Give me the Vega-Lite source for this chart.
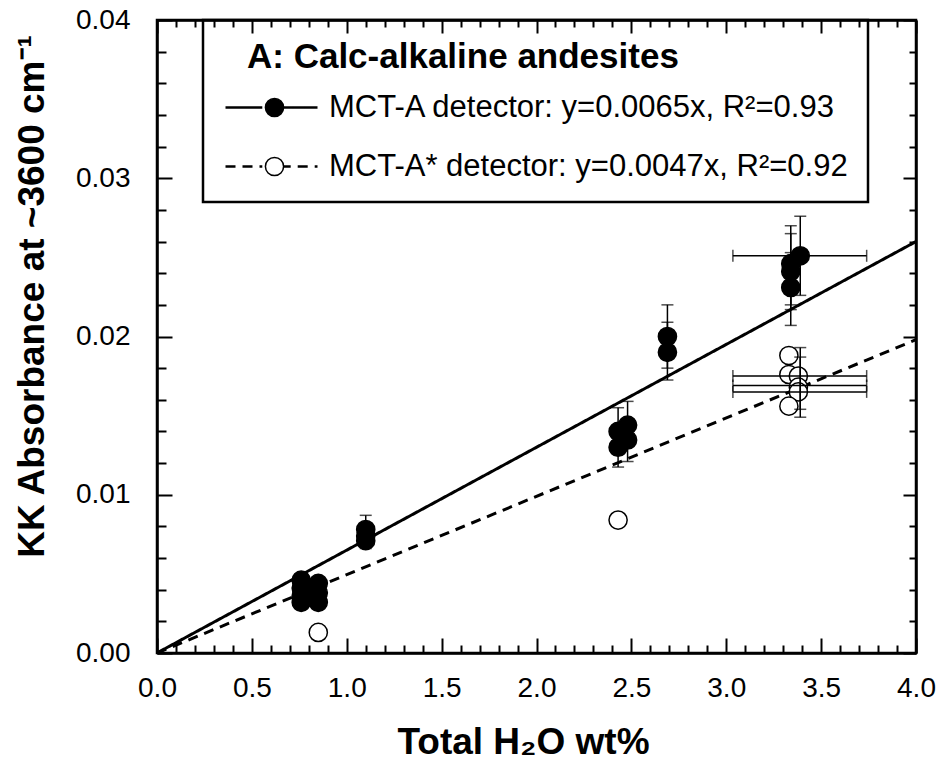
{
  "$schema": "https://vega.github.io/schema/vega-lite/v6.json",
  "width": 759,
  "height": 633,
  "autosize": {"type": "none"},
  "padding": {"left": 157, "top": 20, "right": 32, "bottom": 112},
  "background": "white",
  "config": {
    "font": "Liberation Sans",
    "view": {"stroke": "black", "strokeWidth": 2.5},
    "axis": {"grid": false, "domainColor": "black", "domainWidth": 2.5, "tickColor": "black", "tickWidth": 2, "labelColor": "black", "titleColor": "black", "labelFont": "Liberation Sans", "titleFont": "Liberation Sans", "labelOverlap": false, "labelFlush": false, "labelBound": false},
    "legend": {"labelFont": "Liberation Sans", "titleFont": "Liberation Sans", "labelColor": "black", "titleColor": "black", "labelLimit": 0, "titleLimit": 0}
  },
  "datasets": {
    "fits": [
      {"fit": "MCT-A detector: y=0.0065x, R²=0.93", "x": 0, "y": 0},
      {"fit": "MCT-A detector: y=0.0065x, R²=0.93", "x": 4, "y": 0.026},
      {"fit": "MCT-A* detector: y=0.0047x, R²=0.92", "x": 0, "y": 0},
      {"fit": "MCT-A* detector: y=0.0047x, R²=0.92", "x": 4, "y": 0.0198}
    ],
    "pts": [
      {"detector": "MCT-A", "x": 0.76, "y": 0.0046},
      {"detector": "MCT-A", "x": 0.76, "y": 0.0041},
      {"detector": "MCT-A", "x": 0.76, "y": 0.0036},
      {"detector": "MCT-A", "x": 0.76, "y": 0.0032},
      {"detector": "MCT-A", "x": 0.85, "y": 0.0044},
      {"detector": "MCT-A", "x": 0.85, "y": 0.0038},
      {"detector": "MCT-A", "x": 0.85, "y": 0.0032},
      {"detector": "MCT-A", "x": 1.1, "y": 0.0078},
      {"detector": "MCT-A", "x": 1.1, "y": 0.0074},
      {"detector": "MCT-A", "x": 1.1, "y": 0.0071},
      {"detector": "MCT-A", "x": 2.43, "y": 0.014},
      {"detector": "MCT-A", "x": 2.43, "y": 0.013},
      {"detector": "MCT-A", "x": 2.48, "y": 0.0144},
      {"detector": "MCT-A", "x": 2.48, "y": 0.01346},
      {"detector": "MCT-A", "x": 2.69, "y": 0.02},
      {"detector": "MCT-A", "x": 2.69, "y": 0.019},
      {"detector": "MCT-A", "x": 3.34, "y": 0.0231},
      {"detector": "MCT-A", "x": 3.34, "y": 0.0241},
      {"detector": "MCT-A", "x": 3.34, "y": 0.0246},
      {"detector": "MCT-A", "x": 3.39, "y": 0.0251},
      {"detector": "MCT-A*", "x": 0.85, "y": 0.0013},
      {"detector": "MCT-A*", "x": 2.43, "y": 0.0084},
      {"detector": "MCT-A*", "x": 3.33, "y": 0.0188},
      {"detector": "MCT-A*", "x": 3.33, "y": 0.0176},
      {"detector": "MCT-A*", "x": 3.38, "y": 0.0175},
      {"detector": "MCT-A*", "x": 3.38, "y": 0.0168},
      {"detector": "MCT-A*", "x": 3.38, "y": 0.0165},
      {"detector": "MCT-A*", "x": 3.33, "y": 0.0156}
    ],
    "vbars": [
      {"x": 1.1, "lo": 0.0066, "hi": 0.0087},
      {"x": 2.43, "lo": 0.01175, "hi": 0.0155},
      {"x": 2.48, "lo": 0.0121, "hi": 0.0159},
      {"x": 2.69, "lo": 0.018, "hi": 0.022},
      {"x": 2.69, "lo": 0.01725, "hi": 0.0209},
      {"x": 3.34, "lo": 0.0207, "hi": 0.0253},
      {"x": 3.34, "lo": 0.0217, "hi": 0.0265},
      {"x": 3.34, "lo": 0.022, "hi": 0.027},
      {"x": 3.39, "lo": 0.0226, "hi": 0.0276},
      {"x": 3.39, "lo": 0.0154, "hi": 0.0193},
      {"x": 3.39, "lo": 0.0149, "hi": 0.0187}
    ],
    "hbars": [
      {"y": 0.0251, "lo": 3.035, "hi": 3.74},
      {"y": 0.0175, "lo": 3.035, "hi": 3.74},
      {"y": 0.0169, "lo": 3.035, "hi": 3.74},
      {"y": 0.0165, "lo": 3.035, "hi": 3.74}
    ]
  },
  "resolve": {"axis": {"x": "independent", "y": "independent"}},
  "layer": [
    {
      "data": {"name": "fits"},
      "mark": {"type": "line", "color": "black", "strokeWidth": 3},
      "encoding": {
        "x": {"field": "x", "type": "quantitative",
          "scale": {"domain": [0, 4], "nice": false, "zero": false},
          "axis": {
            "orient": "bottom",
            "values": [0,0.1,0.2,0.3,0.4,0.5,0.6,0.7,0.8,0.9,1,1.1,1.2,1.3,1.4,1.5,1.6,1.7,1.8,1.9,2,2.1,2.2,2.3,2.4,2.5,2.6,2.7,2.8,2.9,3,3.1,3.2,3.3,3.4,3.5,3.6,3.7,3.8,3.9,4],
            "labelExpr": "abs(datum.value*2 - round(datum.value*2)) < 0.001 ? format(datum.value, '.1f') : ''",
            "tickSize": {"condition": {"test": "abs(datum.value*2 - round(datum.value*2)) < 0.001", "value": -15}, "value": -8},
            "labelFontSize": 28,
            "labelPadding": 36,
            "title": "Total H₂O wt%",
            "titleFontSize": 37,
            "titleFontWeight": "bold",
            "titleX": 366,
            "titleY": 100,
            "titleBaseline": "alphabetic"
          }
        },
        "y": {"field": "y", "type": "quantitative",
          "scale": {"domain": [0, 0.04], "nice": false, "zero": false},
          "axis": {
            "orient": "left",
            "values": [0,0.002,0.004,0.006,0.008,0.01,0.012,0.014,0.016,0.018,0.02,0.022,0.024,0.026,0.028,0.03,0.032,0.034,0.036,0.038,0.04],
            "labelExpr": "abs(datum.value*100 - round(datum.value*100)) < 0.001 ? format(datum.value, '.2f') : ''",
            "tickSize": {"condition": {"test": "abs(datum.value*100 - round(datum.value*100)) < 0.001", "value": -15}, "value": -9},
            "labelFontSize": 28,
            "labelPadding": 42,
            "title": "KK Absorbance at ~3600 cm⁻¹",
            "titleFontSize": 37,
            "titleFontWeight": "bold",
            "titleAngle": 270,
            "titleX": -114,
            "titleY": 276,
            "titleBaseline": "alphabetic",
            "titleAlign": "center"
          }
        },
        "strokeDash": {"field": "fit", "type": "nominal",
          "scale": {"domain": ["MCT-A detector: y=0.0065x, R²=0.93", "MCT-A* detector: y=0.0047x, R²=0.92"], "range": [[1, 0], [10, 7]]},
          "legend": {
            "orient": "none", "legendX": 46, "legendY": 0,
            "title": "A: Calc-alkaline andesites",
            "titleFontSize": 35, "titleFontWeight": "bold", "titlePadding": 17,
            "padding": 20,
            "strokeColor": "black",
            "symbolType": "M-4,0H-0.8M0.8,0H4",
            "symbolSize": 529,
            "symbolOffset": 33,
            "symbolStrokeWidth": 2.5,
            "symbolStrokeColor": "black",
            "labelOffset": 42,
            "labelFontSize": 31,
            "rowPadding": 27,
            "encode": {"legend": {"update": {"strokeWidth": {"value": 2.5}}}, "title": {"update": {"dx": {"value": 24}}}}
          }
        }
      }
    },
    {
      "data": {"name": "pts"},
      "mark": {"type": "point", "shape": "circle", "filled": true, "stroke": "black", "strokeWidth": 1.5, "size": 330, "opacity": 1},
      "encoding": {
        "x": {"field": "x", "type": "quantitative",
          "axis": {
            "orient": "top",
            "values": [0,0.1,0.2,0.3,0.4,0.5,0.6,0.7,0.8,0.9,1,1.1,1.2,1.3,1.4,1.5,1.6,1.7,1.8,1.9,2,2.1,2.2,2.3,2.4,2.5,2.6,2.7,2.8,2.9,3,3.1,3.2,3.3,3.4,3.5,3.6,3.7,3.8,3.9,4],
            "labels": false,
            "title": null,
            "tickSize": {"condition": {"test": "abs(datum.value*2 - round(datum.value*2)) < 0.001", "value": -13}, "value": -7}
          }
        },
        "y": {"field": "y", "type": "quantitative",
          "axis": {
            "orient": "right",
            "values": [0,0.002,0.004,0.006,0.008,0.01,0.012,0.014,0.016,0.018,0.02,0.022,0.024,0.026,0.028,0.03,0.032,0.034,0.036,0.038,0.04],
            "labels": false,
            "title": null,
            "tickSize": {"condition": {"test": "abs(datum.value*100 - round(datum.value*100)) < 0.001", "value": -13}, "value": -7}
          }
        },
        "fill": {"field": "detector", "type": "nominal",
          "scale": {"domain": ["MCT-A", "MCT-A*"], "range": ["black", "white"]},
          "legend": {
            "orient": "none", "legendX": 46, "legendY": 0,
            "title": " ",
            "titleFontSize": 35, "titleFontWeight": "bold", "titlePadding": 17, "titleOpacity": 0,
            "padding": 20,
            "symbolType": "circle",
            "symbolSize": 330,
            "symbolOffset": 36,
            "symbolStrokeWidth": 1.5,
            "symbolStrokeColor": "black",
            "symbolOpacity": 1,
            "labelOffset": 42,
            "labelFontSize": 31,
            "labelExpr": "''",
            "labelOpacity": 0,
            "rowPadding": 27
          }
        }
      }
    },
    {
      "data": {"name": "vbars"},
      "mark": {"type": "errorbar", "ticks": {"size": 12, "thickness": 1.5, "color": "black"}, "rule": {"strokeWidth": 1.5, "color": "black"}},
      "encoding": {
        "x": {"field": "x", "type": "quantitative", "axis": null},
        "y": {"field": "lo", "type": "quantitative", "axis": null},
        "y2": {"field": "hi"}
      }
    },
    {
      "data": {"name": "hbars"},
      "mark": {"type": "errorbar", "ticks": {"size": 12, "thickness": 1.5, "color": "black"}, "rule": {"strokeWidth": 1.5, "color": "black"}},
      "encoding": {
        "y": {"field": "y", "type": "quantitative", "axis": null},
        "x": {"field": "lo", "type": "quantitative", "axis": null},
        "x2": {"field": "hi"}
      }
    }
  ]
}
